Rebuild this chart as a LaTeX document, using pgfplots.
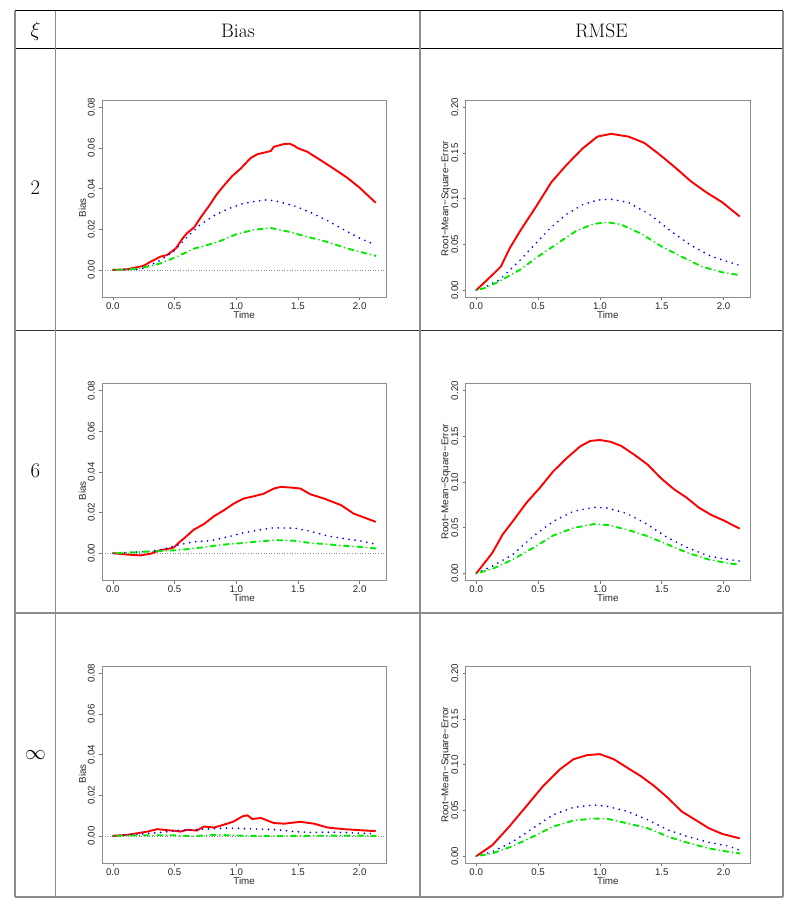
\documentclass[border=0pt]{standalone}
\usepackage{fontspec}
\usepackage{pgfplots}
\pgfplotsset{compat=1.18}
\newfontfamily\rfont{Liberation Sans}
\definecolor{rred}{RGB}{255,0,0}
\definecolor{rblue}{RGB}{0,0,255}
\definecolor{rgreen}{RGB}{0,235,0}
\pgfplotsset{
 rbase/.style={
  scale only axis, width=283.7pt, height=197.5pt, anchor=north west,
  xmin=-0.0851, xmax=2.2131,
  axis line style={black!45, line width=0.7pt},
  tick align=outside, xtick pos=bottom, ytick pos=left,
  major tick length=3pt,
  tick style={black!55, line width=0.6pt},
  scaled ticks=false,
  xtick={0,0.5,1,1.5,2}, xticklabels={0.0,0.5,1.0,1.5,2.0},
  ticklabel style={font=\rfont\fontsize{9.7}{10}\selectfont, text=black!85},
  xticklabel style={anchor=north, inner sep=0pt},
  xticklabel shift=2.2pt,
  yticklabel style={rotate=90, anchor=south, inner sep=0pt},
  yticklabel shift=4.4pt,
  label style={font=\rfont\fontsize{9.8}{10}\selectfont, text=black!85},
  xlabel={Time}, xlabel style={at={(axis description cs:0.5,-0.0887)}, anchor=center},
  clip=true,
 },
 rbias/.style={rbase, ymin=-0.0136, ymax=0.0836, ytick={0,0.02,0.04,0.06,0.08},
  yticklabels={0.00,0.02,0.04,0.06,0.08}, ylabel={Bias},
  ylabel style={at={(axis description cs:-0.0706,0.455)}, anchor=center}},
 rrmse/.style={rbase, width=284.3pt, ymin=-0.008, ymax=0.208, ytick={0,0.05,0.1,0.15,0.2},
  yticklabels={0.00,0.05,0.10,0.15,0.20}, ylabel={Root−Mean−Square−Error},
  ylabel style={at={(axis description cs:-0.0695,0.5)}, anchor=center}},
 zline/.style={black!45, line width=0.5pt, dash pattern=on 1pt off 1.6pt},
 redl/.style={rred, line width=1.9pt, line join=round},
 bluel/.style={rblue, line width=1.9pt, line cap=round, dash pattern=on 0pt off 6pt},
 greenl/.style={rgreen, line width=1.9pt, line cap=round, dash pattern=on 0pt off 4.2pt on 5pt off 4.2pt},
}
\begin{document}
\begin{tikzpicture}
\path[use as bounding box] (0pt,0pt) rectangle (800pt,911pt);
% table rules
\draw[black, line width=1pt] (15pt,900pt) -- (783pt,900pt);
\draw[black, line width=1pt] (15pt,862.7pt) -- (783pt,862.7pt);
\draw[black!80, line width=1pt] (15pt,580pt) -- (783pt,580pt);
\draw[black!45, line width=1.3pt] (15pt,298pt) -- (783pt,298pt);
\draw[black!45, line width=1.3pt] (15pt,14pt) -- (783pt,14pt);
\foreach \xx in {15,55.7,420,783}{\draw[black!45, line width=1.3pt] (\xx pt,900pt) -- (\xx pt,14pt);}
% header
\node[font=\fontsize{19.5}{23}\selectfont] at (35.5pt,880pt) {$\xi$};
\node[font=\fontsize{19.5}{23}\selectfont, anchor=base] at (238pt,873.7pt) {Bias};
\node[font=\fontsize{19.5}{23}\selectfont, anchor=base] at (601.5pt,873.7pt) {RMSE};
\node[font=\fontsize{19.5}{23}\selectfont] at (35.5pt,723pt) {$2$};
\node[font=\fontsize{19.5}{23}\selectfont] at (35.5pt,440pt) {$6$};
\node[font=\fontsize{19.5}{23}\selectfont] at (35.5pt,156pt) {$\infty$};

% ---- xi = 2, Bias
\begin{axis}[rbias, at={(102.3pt,811pt)}]
\addplot[zline] coordinates {(-0.0851,0) (2.2131,0)};
\addplot[redl] table {
0 0
0.05 0.0001
0.116 0.0003
0.2 0.0013
0.25 0.002
0.3 0.0038
0.386 0.0065
0.44 0.0073
0.51 0.0105
0.56 0.015
0.6 0.018
0.66 0.021
0.72 0.0265
0.78 0.0315
0.84 0.0370
0.9 0.0415
0.968 0.0462
1.035 0.0498
1.116 0.055
1.17 0.0569
1.24 0.0579
1.28 0.0585
1.305 0.0606
1.386 0.0619
1.43 0.0621
1.47 0.0611
1.495 0.0600
1.576 0.0581
1.68 0.0541
1.79 0.0498
1.9 0.0453
2.0 0.0404
2.13 0.0330
};
\addplot[bluel] table {
0 0
0.1 0.0001
0.2 0.0003
0.25 0.0008
0.3 0.0022
0.386 0.0048
0.49 0.0089
0.6 0.016
0.71 0.0223
0.82 0.0267
0.93 0.0299
1.035 0.0323
1.14 0.0336
1.25 0.0345
1.33 0.0338
1.47 0.0315
1.6 0.0283
1.74 0.0242
1.87 0.0198
2.0 0.0156
2.13 0.0122
};
\addplot[greenl] table {
0 0
0.1 0.0001
0.2 0.0006
0.3 0.0018
0.386 0.0032
0.52 0.0065
0.66 0.0105
0.76 0.0121
0.87 0.0142
1.0 0.0175
1.14 0.0197
1.28 0.0206
1.41 0.0190
1.58 0.0162
1.74 0.0137
1.9 0.0105
2.0 0.0089
2.13 0.0069
};
\end{axis}

% ---- xi = 2, RMSE
\begin{axis}[rrmse, at={(465.7pt,811pt)}]
\addplot[redl] table {
0 0
0.146 0.0187
0.2 0.026
0.27 0.0457
0.356 0.065
0.48 0.0906
0.607 0.118
0.73 0.137
0.86 0.155
0.98 0.168
1.09 0.171
1.23 0.168
1.36 0.161
1.485 0.148
1.61 0.134
1.736 0.119
1.86 0.107
1.99 0.096
2.13 0.0806
};
\addplot[bluel] table {
0 0
0.05 0.002
0.19 0.0115
0.356 0.033
0.48 0.051
0.607 0.069
0.73 0.083
0.86 0.0935
0.98 0.0986
1.09 0.0995
1.23 0.096
1.4 0.083
1.57 0.065
1.736 0.049
1.9 0.037
2.13 0.027
};
\addplot[greenl] table {
0 0
0.076 0.0025
0.186 0.0097
0.35 0.022
0.513 0.038
0.677 0.053
0.81 0.065
0.95 0.0725
1.06 0.0743
1.17 0.0718
1.33 0.062
1.495 0.048
1.66 0.0366
1.82 0.026
1.99 0.0195
2.13 0.0165
};
\end{axis}

% ---- xi = 6, Bias
\begin{axis}[rbias, at={(102.3pt,527.7pt)}]
\addplot[zline] coordinates {(-0.0851,0) (2.2131,0)};
\addplot[redl] table {
0 0
0.116 -0.0007
0.224 -0.0011
0.305 -0.0003
0.386 0.0015
0.44 0.002
0.495 0.0028
0.535 0.0052
0.576 0.0072
0.657 0.0116
0.738 0.0143
0.82 0.0182
0.9 0.0211
0.98 0.0244
1.06 0.0269
1.143 0.028
1.224 0.0293
1.305 0.0318
1.36 0.0326
1.44 0.0323
1.52 0.0318
1.6 0.029
1.71 0.0269
1.85 0.0236
1.95 0.0195
2.13 0.0154
};
\addplot[bluel] table {
0 0
0.25 0.0007
0.386 0.0015
0.52 0.0039
0.657 0.0056
0.79 0.0061
0.93 0.008
1.06 0.01
1.2 0.0116
1.305 0.0125
1.47 0.0123
1.6 0.0108
1.74 0.0085
1.87 0.0072
2.0 0.0061
2.13 0.0044
};
\addplot[greenl] table {
0 0
0.116 0.0002
0.25 0.0007
0.386 0.001
0.52 0.0015
0.657 0.0023
0.79 0.0034
0.93 0.0044
1.06 0.005
1.2 0.0059
1.33 0.0064
1.47 0.0061
1.6 0.005
1.74 0.0044
1.87 0.0036
2.0 0.0031
2.13 0.0023
};
\end{axis}

% ---- xi = 6, RMSE
\begin{axis}[rrmse, at={(465.7pt,527.7pt)}]
\addplot[redl] table {
0 0
0.13 0.0225
0.213 0.0425
0.295 0.057
0.404 0.077
0.513 0.0935
0.622 0.1116
0.73 0.126
0.84 0.139
0.922 0.145
1.0 0.146
1.086 0.144
1.17 0.1396
1.277 0.13
1.386 0.119
1.495 0.104
1.6 0.092
1.7 0.083
1.8 0.072
1.9 0.064
2.0 0.058
2.13 0.049
};
\addplot[bluel] table {
0 0
0.13 0.008
0.295 0.0207
0.46 0.0407
0.622 0.057
0.786 0.068
0.95 0.0724
1.06 0.0716
1.22 0.0655
1.386 0.0535
1.55 0.039
1.71 0.028
1.88 0.019
2.04 0.0153
2.13 0.0135
};
\addplot[greenl] table {
0 0
0.13 0.005
0.295 0.0153
0.46 0.028
0.622 0.0415
0.786 0.0498
0.95 0.054
1.06 0.053
1.22 0.048
1.386 0.0407
1.55 0.0316
1.71 0.0225
1.88 0.0153
2.04 0.011
2.13 0.0098
};
\end{axis}

% ---- xi = infinity, Bias
\begin{axis}[rbias, at={(102.3pt,245pt)}]
\addplot[zline] coordinates {(-0.0851,0) (2.2131,0)};
\addplot[redl] table {
0 0
0.116 0.0005
0.2 0.0013
0.28 0.0021
0.36 0.0033
0.41 0.003
0.5 0.0025
0.55 0.0021
0.6 0.003
0.68 0.0026
0.74 0.0046
0.82 0.0041
0.9 0.0055
0.98 0.0071
1.05 0.0096
1.09 0.0101
1.13 0.0083
1.2 0.0088
1.305 0.0063
1.39 0.006
1.47 0.0066
1.52 0.0069
1.63 0.006
1.74 0.0041
1.87 0.0033
2.0 0.0028
2.13 0.0023
};
\addplot[bluel] table {
0 0
0.25 0.001
0.386 0.0017
0.52 0.0026
0.657 0.003
0.79 0.0035
0.93 0.0038
1.06 0.0036
1.2 0.0033
1.33 0.003
1.47 0.0021
1.6 0.0017
1.74 0.0018
1.87 0.0017
2.0 0.0013
2.13 0.001
};
\addplot[greenl] table {
0 0
0.25 0.0003
0.5 0.0003
0.65 -0.0002
0.8 0.0005
1.0 0.0002
1.2 -0.0001
1.5 0.0
1.75 0.0001
2.0 0.0001
2.13 0.0
};
\end{axis}

% ---- xi = infinity, RMSE
\begin{axis}[rrmse, at={(465.7pt,245pt)}]
\addplot[redl] table {
0 0
0.13 0.012
0.267 0.0324
0.404 0.0545
0.54 0.0766
0.677 0.095
0.786 0.106
0.895 0.1105
1.0 0.1116
1.113 0.106
1.22 0.0968
1.33 0.0876
1.44 0.0766
1.55 0.0637
1.66 0.049
1.77 0.0398
1.88 0.0306
1.99 0.0243
2.13 0.0195
};
\addplot[bluel] table {
0 0
0.13 0.0048
0.295 0.0158
0.46 0.0306
0.622 0.0453
0.786 0.0534
0.95 0.056
1.06 0.0545
1.22 0.049
1.386 0.0398
1.55 0.0287
1.71 0.0214
1.88 0.0151
2.04 0.011
2.13 0.0066
};
\addplot[greenl] table {
0 0
0.13 0.003
0.295 0.011
0.46 0.0214
0.622 0.0324
0.786 0.039
0.95 0.0412
1.06 0.0409
1.22 0.036
1.386 0.0306
1.55 0.0214
1.71 0.0147
1.88 0.0085
2.04 0.0048
2.13 0.003
};
\end{axis}
\end{tikzpicture}
\end{document}
